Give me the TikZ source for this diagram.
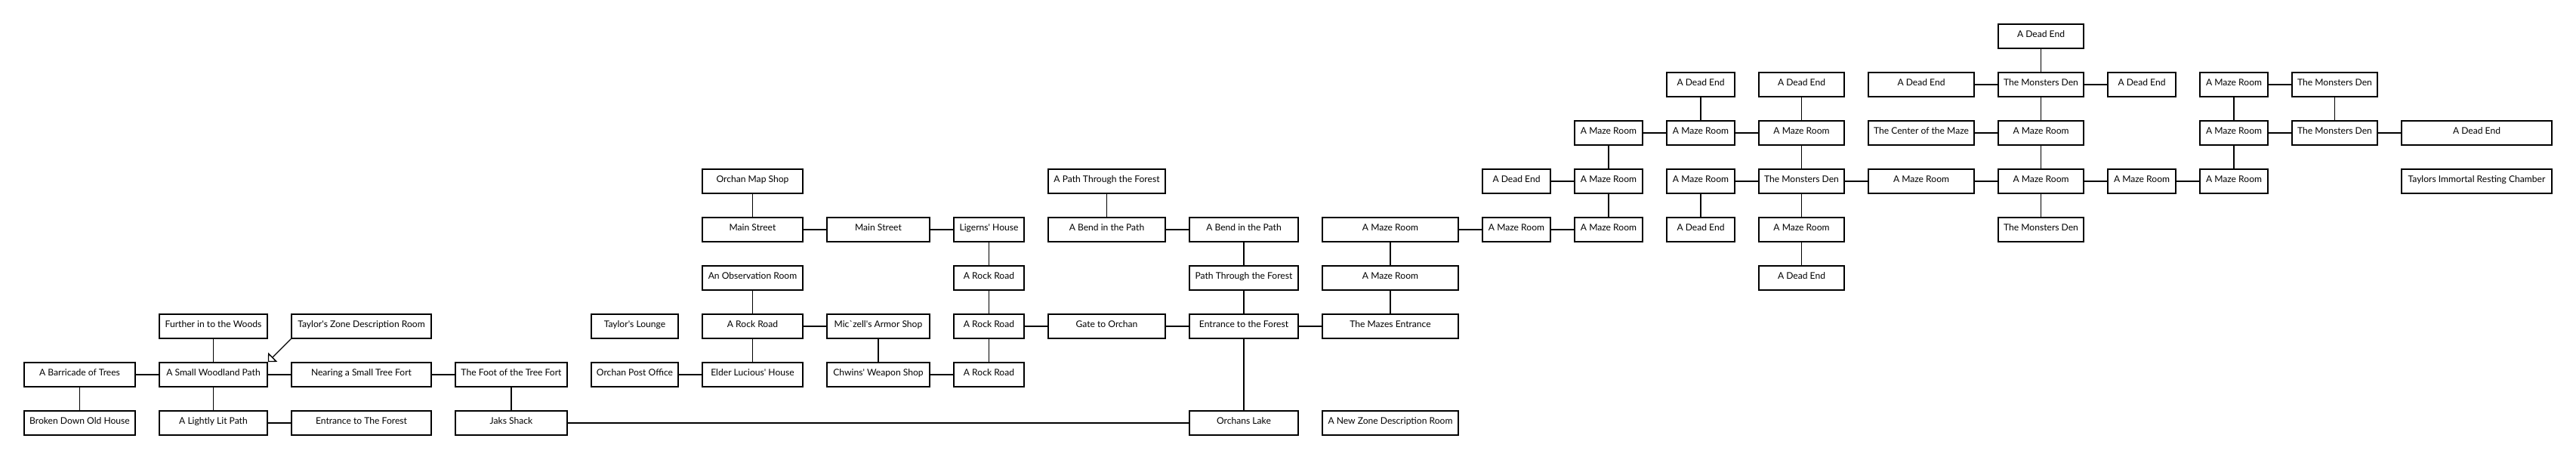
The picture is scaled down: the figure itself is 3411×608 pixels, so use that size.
\documentclass[tikz,border=0pt]{standalone}
\usepackage{fontspec}
\setmainfont{Lato}
\usetikzlibrary{arrows.meta}
\newcommand\ap{\textquotesingle}
\tikzset{
  room/.style={draw=black, line width=1.6pt, minimum height=32pt, inner sep=0pt,
    text height=7pt, text depth=5pt, font=\fontsize{12.1}{14}\selectfont, fill=white},
  link/.style={draw=black, line width=1.3pt},
  pointer/.style={draw=black, line width=1.3pt, -{Triangle[open, length=9pt, width=17pt, line width=1.3pt]}},
  cA/.style={minimum width=147pt}, cB/.style={minimum width=143pt},
  cC/.style={minimum width=185pt}, cD/.style={minimum width=148pt},
  cE/.style={minimum width=115pt}, cF/.style={minimum width=133pt},
  cG/.style={minimum width=136pt}, cH/.style={minimum width=93pt},
  cI/.style={minimum width=155pt}, cJ/.style={minimum width=144pt},
  cK/.style={minimum width=180pt}, cL/.style={minimum width=90pt},
  cM/.style={minimum width=90pt}, cN/.style={minimum width=90pt},
  cO/.style={minimum width=113pt}, cP/.style={minimum width=140pt},
  cQ/.style={minimum width=113pt}, cR/.style={minimum width=90pt},
  cS/.style={minimum width=90pt}, cT/.style={minimum width=113pt},
  cU/.style={minimum width=199pt}
}
\begin{document}
\begin{tikzpicture}[x=1pt, y=-1pt]
\useasboundingbox (0,0) rectangle (3411,608);
% row 0
\node[room,cQ] (Q0) at (2702.5,48) {A Dead End};
% row 1
\node[room,cN] (N1) at (2252,112) {A Dead End};
\node[room,cO] (O1) at (2385.5,112) {A Dead End};
\node[room,cP] (P1) at (2544,112) {A Dead End};
\node[room,cQ] (Q1) at (2702.5,112) {The Monsters Den};
\node[room,cR] (R1) at (2836,112) {A Dead End};
\node[room,cS] (S1) at (2958,112) {A Maze Room};
\node[room,cT] (T1) at (3091.5,112) {The Monsters Den};
% row 2
\node[room,cM] (M2) at (2130,176) {A Maze Room};
\node[room,cN] (N2) at (2252,176) {A Maze Room};
\node[room,cO] (O2) at (2385.5,176) {A Maze Room};
\node[room,cP] (P2) at (2544,176) {The Center of the Maze};
\node[room,cQ] (Q2) at (2702.5,176) {A Maze Room};
\node[room,cS] (S2) at (2958,176) {A Maze Room};
\node[room,cT] (T2) at (3091.5,176) {The Monsters Den};
\node[room,cU] (U2) at (3279.5,176) {A Dead End};
% row 3
\node[room,cF] (F3) at (996.5,240) {Orchan Map Shop};
\node[room,cI] (I3) at (1465.5,240) {A Path Through the Forest};
\node[room,cL] (L3) at (2008,240) {A Dead End};
\node[room,cM] (M3) at (2130,240) {A Maze Room};
\node[room,cN] (N3) at (2252,240) {A Maze Room};
\node[room,cO] (O3) at (2385.5,240) {The Monsters Den};
\node[room,cP] (P3) at (2544,240) {A Maze Room};
\node[room,cQ] (Q3) at (2702.5,240) {A Maze Room};
\node[room,cR] (R3) at (2836,240) {A Maze Room};
\node[room,cS] (S3) at (2958,240) {A Maze Room};
\node[room,cU] (U3) at (3279.5,240) {Taylors Immortal Resting Chamber};
% row 4
\node[room,cF] (F4) at (996.5,304) {Main Street};
\node[room,cG] (G4) at (1163,304) {Main Street};
\node[room,cH] (H4) at (1309.5,304) {Ligerns\ap\ House};
\node[room,cI] (I4) at (1465.5,304) {A Bend in the Path};
\node[room,cJ] (J4) at (1647,304) {A Bend in the Path};
\node[room,cK] (K4) at (1841,304) {A Maze Room};
\node[room,cL] (L4) at (2008,304) {A Maze Room};
\node[room,cM] (M4) at (2130,304) {A Maze Room};
\node[room,cN] (N4) at (2252,304) {A Dead End};
\node[room,cO] (O4) at (2385.5,304) {A Maze Room};
\node[room,cQ] (Q4) at (2702.5,304) {The Monsters Den};
% row 5
\node[room,cF] (F5) at (996.5,368) {An Observation Room};
\node[room,cH] (H5) at (1309.5,368) {A Rock Road};
\node[room,cJ] (J5) at (1647,368) {Path Through the Forest};
\node[room,cK] (K5) at (1841,368) {A Maze Room};
\node[room,cO] (O5) at (2385.5,368) {A Dead End};
% row 6
\node[room,cB] (B6) at (282.5,432) {Further in to the Woods};
\node[room,cC] (C6) at (478.5,432) {Taylor\ap s Zone Description Room};
\node[room,cE] (E6) at (840.5,432) {Taylor\ap s Lounge};
\node[room,cF] (F6) at (996.5,432) {A Rock Road};
\node[room,cG] (G6) at (1163,432) {Mic\textasciigrave zell\ap s Armor Shop};
\node[room,cH] (H6) at (1309.5,432) {A Rock Road};
\node[room,cI] (I6) at (1465.5,432) {Gate to Orchan};
\node[room,cJ] (J6) at (1647,432) {Entrance to the Forest};
\node[room,cK] (K6) at (1841,432) {The Mazes Entrance};
% row 7
\node[room,cA] (A7) at (105.5,496) {A Barricade of Trees};
\node[room,cB] (B7) at (282.5,496) {A Small Woodland Path};
\node[room,cC] (C7) at (478.5,496) {Nearing a Small Tree Fort};
\node[room,cD] (D7) at (677,496) {The Foot of the Tree Fort};
\node[room,cE] (E7) at (840.5,496) {Orchan Post Office};
\node[room,cF] (F7) at (996.5,496) {Elder Lucious\ap\ House};
\node[room,cG] (G7) at (1163,496) {Chwins\ap\ Weapon Shop};
\node[room,cH] (H7) at (1309.5,496) {A Rock Road};
% row 8
\node[room,cA] (A8) at (105.5,560) {Broken Down Old House};
\node[room,cB] (B8) at (282.5,560) {A Lightly Lit Path};
\node[room,cC] (C8) at (478.5,560) {Entrance to The Forest};
\node[room,cD] (D8) at (677,560) {Jaks Shack};
\node[room,cJ] (J8) at (1647,560) {Orchans Lake};
\node[room,cK] (K8) at (1841,560) {A New Zone Description Room};
% connectors
\foreach \a/\b in {A7/B7, B6/B7, B7/C7, C7/D7, A7/A8, B7/B8, B8/C8, D7/D8, D8/J8,
  F3/F4, F4/G4, G4/H4, H4/H5, H5/H6, H6/H7, F5/F6, F6/G6, F6/F7, G6/G7, E7/F7, G7/H7,
  H6/I6, I3/I4, I4/J4, J4/J5, J5/J6, I6/J6, J6/K6, J6/J8, K4/K5, K5/K6, K4/L4, L4/M4,
  L3/M3, M3/M4, M2/M3, M2/N2, N2/O2, N1/N2, O1/O2, O2/O3, N3/O3, N3/N4, O3/P3, P3/Q3,
  O3/O4, O4/O5, P1/Q1, P2/Q2, Q0/Q1, Q1/R1, Q1/Q2, Q2/Q3, Q3/R3, R3/S3, Q3/Q4,
  S1/T1, S1/S2, T1/T2, S2/T2, T2/U2, S2/S3}
  \draw[link] (\a) -- (\b);
\draw[pointer] (C6.south west) -- (B7.north east);
\end{tikzpicture}
\end{document}
